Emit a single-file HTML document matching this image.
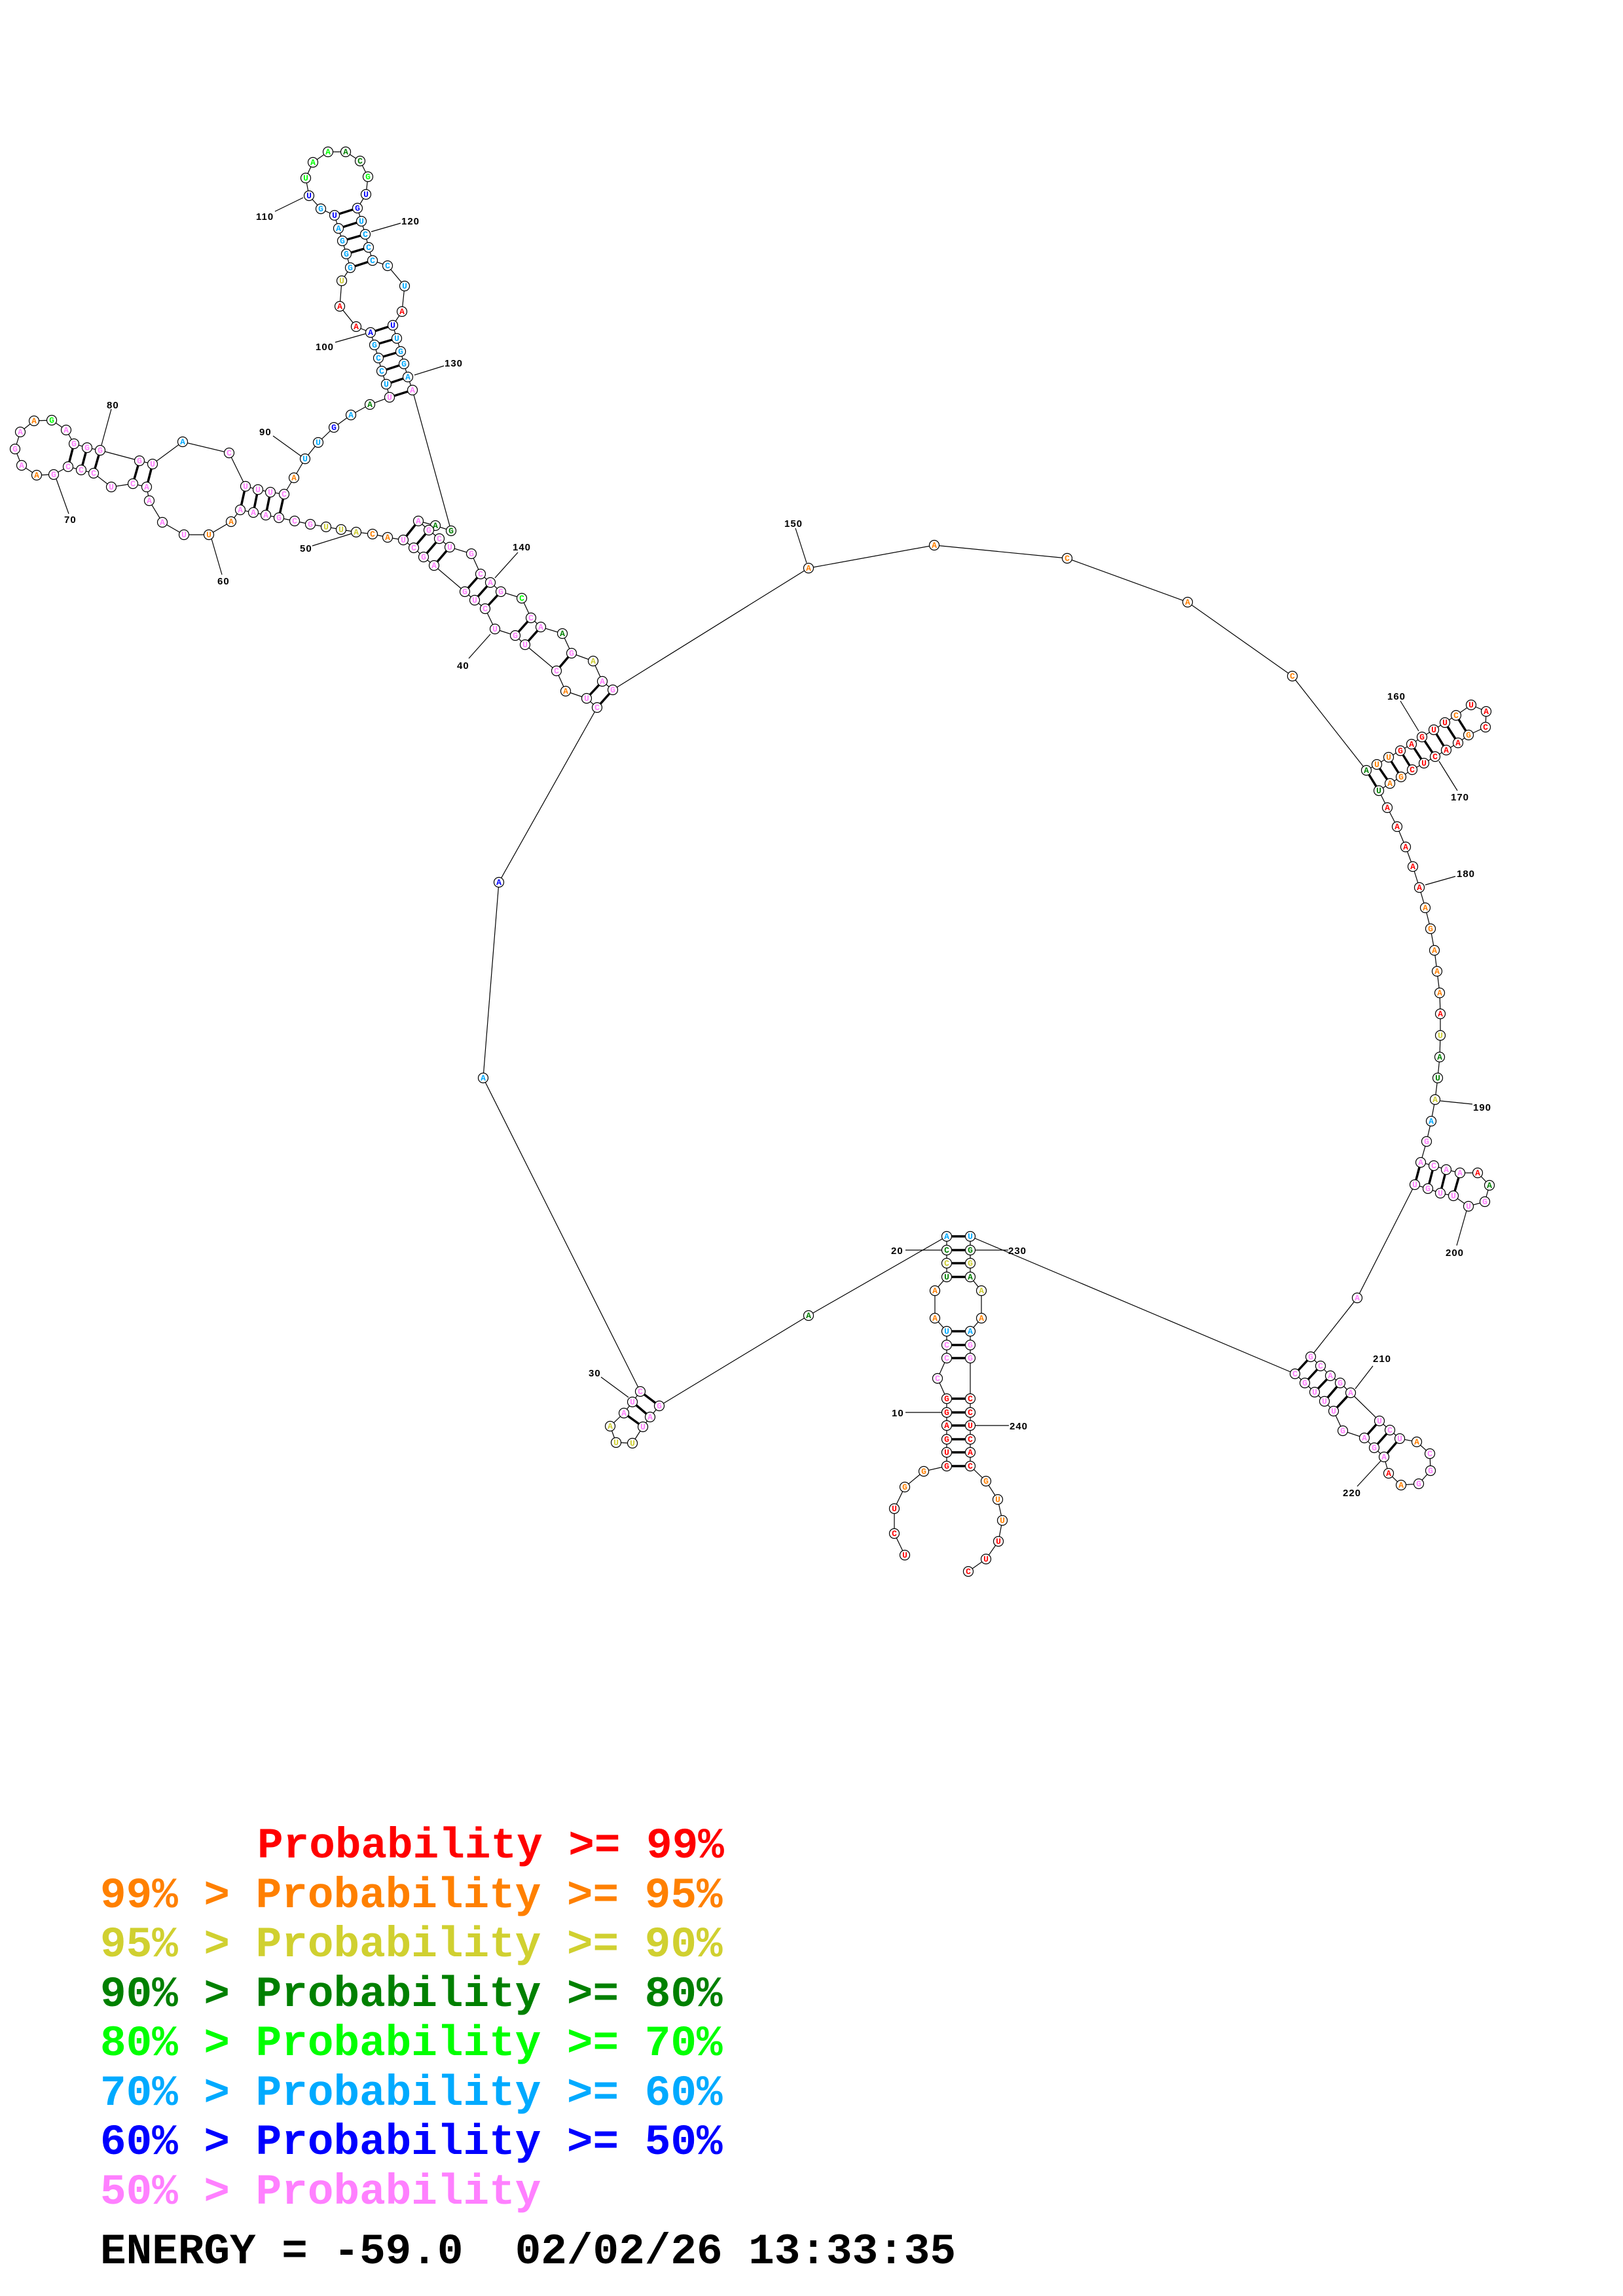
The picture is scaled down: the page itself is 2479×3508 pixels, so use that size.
<!DOCTYPE html>
<html><head><meta charset="utf-8"><style>
html,body{margin:0;padding:0;background:#fff;}
svg{display:block;}
.n circle{fill:#fff;stroke:#000;stroke-width:1.2;}
.n text{font-family:"Liberation Mono",monospace;font-weight:bold;font-size:13px;text-anchor:middle;}
.lb{font-family:"Liberation Sans",sans-serif;font-weight:bold;font-size:15px;fill:#000;letter-spacing:1px;}
.lg{font-family:"Liberation Mono",monospace;font-weight:bold;font-size:66px;white-space:pre;}
.R{fill:#ff0000}.O{fill:#ff8000}.Y{fill:#cccc30}.D{fill:#008000}.G{fill:#00ff00}.C{fill:#00aaff}.B{fill:#0000ff}.P{fill:#ff80ff}
</style></head><body>
<svg width="2479" height="3508" viewBox="0 0 2479 3508" xmlns="http://www.w3.org/2000/svg">
<rect width="2479" height="3508" fill="#fff"/>
<g stroke="#000" stroke-width="1.2" fill="none">
<polyline points="1382,2376 1366,2343 1366,2305 1382,2272 1411,2248 1446,2240 1446,2219 1446,2199 1446,2178 1446,2158 1446,2137 1432,2106 1446,2075 1446,2055 1446,2034 1428,2014 1428,1972 1446,1951 1446,1930 1446,1910 1446,1889 1235,2010 1007,2148 993,2165 982,2180 966,2205 941,2204 932,2179 953,2159 966,2142 978,2126 738,1647 762,1348 912,1081 896,1067 864,1056 850,1025 802,985 787,971 756,961 741,930 725,917 710,904 663,864 647,851 632,837 616,825 592,821 569,816 544,813 521,809 498,805 474,801 450,796 426,791 406,787 387,783 367,779 353,797 319,817 281,817 248,798 228,765 224,744 203,739 170,744 143,723 124,718 104,713 82,725 56,726 33,711 23,686 31,660 52,643 79,642 101,657 113,678 133,684 153,688 213,704 233,709 279,675 350,692 375,743 394,748 413,752 434,755 449,730 466,701 486,676 510,653 536,634 565,618 595,607 590,587 583,567 578,547 572,527 566,508 544,499 519,468 522,429 535,409 529,388 523,368 517,349 511,329 490,319 472,299 467,272 478,248 501,232 528,232 550,246 562,270 559,297 546,318 552,338 558,358 563,378 569,398 592,406 618,437 614,476 600,497 606,517 612,537 617,556 623,576 630,596 689,811 665,803 639,796 655,810 671,823 687,836 720,846 734,877 749,890 765,904 797,914 811,944 826,958 859,968 873,998 906,1010 920,1041 936,1054 1235,868 1427,833 1630,853 1814,920 1974,1033 2087,1177 2103,1168 2121,1157 2139,1147 2156,1137 2172,1126 2190,1115 2207,1104 2224,1093 2247,1077 2270,1087 2269,1111 2243,1123 2227,1135 2209,1146 2192,1156 2175,1166 2157,1176 2140,1187 2123,1197 2106,1208 2119,1234 2134,1263 2147,1294 2158,1324 2168,1356 2177,1387 2185,1419 2191,1452 2195,1484 2199,1517 2200,1549 2200,1582 2199,1615 2196,1647 2192,1680 2186,1713 2179,1744 2170,1776 2190,1781 2209,1787 2230,1792 2257,1792 2275,1811 2268,1836 2243,1843 2220,1827 2200,1823 2181,1816 2161,1810 2073,1983 2002,2073 2017,2087 2032,2102 2047,2113 2063,2128 2107,2171 2123,2185 2138,2198 2164,2203 2184,2221 2185,2247 2167,2267 2140,2269 2121,2251 2114,2226 2099,2212 2084,2197 2051,2186 2037,2156 2023,2141 2008,2127 1993,2113 1978,2099 1482,1889 1482,1910 1482,1930 1482,1951 1499,1972 1499,2014 1482,2034 1482,2055 1482,2075 1482,2137 1482,2158 1482,2178 1482,2199 1482,2219 1482,2240 1506,2263 1524,2291 1531,2323 1525,2355 1506,2382 1479,2401"/>
<line x1="1383" y1="2158" x2="1438" y2="2158"/><line x1="1383" y1="1910" x2="1438" y2="1910"/>
<line x1="1490" y1="1910" x2="1540" y2="1910"/><line x1="1490" y1="2178" x2="1541" y2="2178"/>
<line x1="918" y1="2104" x2="960" y2="2135"/><line x1="716" y1="1006" x2="749" y2="969"/>
<line x1="477" y1="834" x2="538" y2="815"/><line x1="339" y1="878" x2="323" y2="823"/>
<line x1="105" y1="785" x2="86" y2="732"/><line x1="170" y1="625" x2="155" y2="680"/>
<line x1="417" y1="666" x2="460" y2="697"/><line x1="512" y1="523" x2="558" y2="510"/>
<line x1="420" y1="323" x2="463" y2="302"/><line x1="567" y1="354" x2="612" y2="341"/>
<line x1="633" y1="573" x2="678" y2="559"/><line x1="791" y1="844" x2="756" y2="883"/>
<line x1="1215" y1="807" x2="1232" y2="860"/><line x1="2139" y1="1071" x2="2167" y2="1117"/>
<line x1="2198" y1="1163" x2="2226" y2="1208"/><line x1="2177" y1="1352" x2="2223" y2="1339"/>
<line x1="2200" y1="1682" x2="2249" y2="1687"/><line x1="2240" y1="1850" x2="2225" y2="1903"/>
<line x1="2070" y1="2122" x2="2097" y2="2087"/><line x1="2073" y1="2271" x2="2110" y2="2231"/>
</g>
<g stroke="#000" stroke-width="3.5">
<line x1="1446" y1="2240" x2="1482" y2="2240"/><line x1="1446" y1="2219" x2="1482" y2="2219"/><line x1="1446" y1="2199" x2="1482" y2="2199"/><line x1="1446" y1="2178" x2="1482" y2="2178"/><line x1="1446" y1="2158" x2="1482" y2="2158"/><line x1="1446" y1="2137" x2="1482" y2="2137"/><line x1="1446" y1="2075" x2="1482" y2="2075"/><line x1="1446" y1="2055" x2="1482" y2="2055"/><line x1="1446" y1="2034" x2="1482" y2="2034"/><line x1="1446" y1="1951" x2="1482" y2="1951"/><line x1="1446" y1="1930" x2="1482" y2="1930"/><line x1="1446" y1="1910" x2="1482" y2="1910"/><line x1="1446" y1="1889" x2="1482" y2="1889"/>
<line x1="1007" y1="2148" x2="978" y2="2126"/><line x1="993" y1="2165" x2="966" y2="2142"/><line x1="982" y1="2180" x2="953" y2="2159"/>
<line x1="912" y1="1081" x2="936" y2="1054"/><line x1="896" y1="1067" x2="920" y2="1041"/><line x1="850" y1="1025" x2="873" y2="998"/><line x1="802" y1="985" x2="826" y2="958"/><line x1="787" y1="971" x2="811" y2="944"/><line x1="741" y1="930" x2="765" y2="904"/><line x1="725" y1="917" x2="749" y2="890"/><line x1="710" y1="904" x2="734" y2="877"/><line x1="663" y1="864" x2="687" y2="836"/><line x1="647" y1="851" x2="671" y2="823"/><line x1="632" y1="837" x2="655" y2="810"/><line x1="616" y1="825" x2="639" y2="796"/>
<line x1="426" y1="791" x2="434" y2="755"/><line x1="406" y1="787" x2="413" y2="752"/><line x1="387" y1="783" x2="394" y2="748"/><line x1="367" y1="779" x2="375" y2="743"/>
<line x1="224" y1="744" x2="233" y2="709"/><line x1="203" y1="739" x2="213" y2="704"/>
<line x1="143" y1="723" x2="153" y2="688"/><line x1="124" y1="718" x2="133" y2="684"/><line x1="104" y1="713" x2="113" y2="678"/>
<line x1="595" y1="607" x2="630" y2="596"/><line x1="590" y1="587" x2="623" y2="576"/><line x1="583" y1="567" x2="617" y2="556"/><line x1="578" y1="547" x2="612" y2="537"/><line x1="572" y1="527" x2="606" y2="517"/><line x1="566" y1="508" x2="600" y2="497"/>
<line x1="535" y1="409" x2="569" y2="398"/><line x1="529" y1="388" x2="563" y2="378"/><line x1="523" y1="368" x2="558" y2="358"/><line x1="517" y1="349" x2="552" y2="338"/><line x1="511" y1="329" x2="546" y2="318"/>
<line x1="2087" y1="1177" x2="2106" y2="1208"/><line x1="2103" y1="1168" x2="2123" y2="1197"/><line x1="2121" y1="1157" x2="2140" y2="1187"/><line x1="2139" y1="1147" x2="2157" y2="1176"/><line x1="2156" y1="1137" x2="2175" y2="1166"/><line x1="2172" y1="1126" x2="2192" y2="1156"/><line x1="2190" y1="1115" x2="2209" y2="1146"/><line x1="2207" y1="1104" x2="2227" y2="1135"/><line x1="2224" y1="1093" x2="2243" y2="1123"/>
<line x1="2170" y1="1776" x2="2161" y2="1810"/><line x1="2190" y1="1781" x2="2181" y2="1816"/><line x1="2209" y1="1787" x2="2200" y2="1823"/><line x1="2230" y1="1792" x2="2220" y2="1827"/>
<line x1="2002" y1="2073" x2="1978" y2="2099"/><line x1="2017" y1="2087" x2="1993" y2="2113"/><line x1="2032" y1="2102" x2="2008" y2="2127"/><line x1="2047" y1="2113" x2="2023" y2="2141"/><line x1="2063" y1="2128" x2="2037" y2="2156"/><line x1="2107" y1="2171" x2="2084" y2="2197"/><line x1="2123" y1="2185" x2="2099" y2="2212"/><line x1="2138" y1="2198" x2="2114" y2="2226"/>
</g>
<g class="n">
<circle cx="1382" cy="2376" r="7.5"/><text x="1382" y="2380" class="R">U</text>
<circle cx="1366" cy="2343" r="7.5"/><text x="1366" y="2347" class="R">C</text>
<circle cx="1366" cy="2305" r="7.5"/><text x="1366" y="2309" class="R">U</text>
<circle cx="1382" cy="2272" r="7.5"/><text x="1382" y="2276" class="O">G</text>
<circle cx="1411" cy="2248" r="7.5"/><text x="1411" y="2252" class="O">G</text>
<circle cx="1446" cy="2240" r="7.5"/><text x="1446" y="2244" class="R">G</text>
<circle cx="1446" cy="2219" r="7.5"/><text x="1446" y="2223" class="R">U</text>
<circle cx="1446" cy="2199" r="7.5"/><text x="1446" y="2203" class="R">G</text>
<circle cx="1446" cy="2178" r="7.5"/><text x="1446" y="2182" class="R">A</text>
<circle cx="1446" cy="2158" r="7.5"/><text x="1446" y="2162" class="R">G</text>
<circle cx="1446" cy="2137" r="7.5"/><text x="1446" y="2141" class="R">G</text>
<circle cx="1432" cy="2106" r="7.5"/><text x="1432" y="2110" class="P">C</text>
<circle cx="1446" cy="2075" r="7.5"/><text x="1446" y="2079" class="P">C</text>
<circle cx="1446" cy="2055" r="7.5"/><text x="1446" y="2059" class="P">C</text>
<circle cx="1446" cy="2034" r="7.5"/><text x="1446" y="2038" class="C">U</text>
<circle cx="1428" cy="2014" r="7.5"/><text x="1428" y="2018" class="O">A</text>
<circle cx="1428" cy="1972" r="7.5"/><text x="1428" y="1976" class="O">A</text>
<circle cx="1446" cy="1951" r="7.5"/><text x="1446" y="1955" class="D">U</text>
<circle cx="1446" cy="1930" r="7.5"/><text x="1446" y="1934" class="Y">C</text>
<circle cx="1446" cy="1910" r="7.5"/><text x="1446" y="1914" class="D">C</text>
<circle cx="1446" cy="1889" r="7.5"/><text x="1446" y="1893" class="C">A</text>
<circle cx="1235" cy="2010" r="7.5"/><text x="1235" y="2014" class="D">A</text>
<circle cx="1007" cy="2148" r="7.5"/><text x="1007" y="2152" class="P">G</text>
<circle cx="993" cy="2165" r="7.5"/><text x="993" y="2169" class="P">A</text>
<circle cx="982" cy="2180" r="7.5"/><text x="982" y="2184" class="P">U</text>
<circle cx="966" cy="2205" r="7.5"/><text x="966" y="2209" class="Y">U</text>
<circle cx="941" cy="2204" r="7.5"/><text x="941" y="2208" class="Y">U</text>
<circle cx="932" cy="2179" r="7.5"/><text x="932" y="2183" class="Y">A</text>
<circle cx="953" cy="2159" r="7.5"/><text x="953" y="2163" class="P">A</text>
<circle cx="966" cy="2142" r="7.5"/><text x="966" y="2146" class="P">U</text>
<circle cx="978" cy="2126" r="7.5"/><text x="978" y="2130" class="P">C</text>
<circle cx="738" cy="1647" r="7.5"/><text x="738" y="1651" class="C">A</text>
<circle cx="762" cy="1348" r="7.5"/><text x="762" y="1352" class="B">A</text>
<circle cx="912" cy="1081" r="7.5"/><text x="912" y="1085" class="P">C</text>
<circle cx="896" cy="1067" r="7.5"/><text x="896" y="1071" class="P">U</text>
<circle cx="864" cy="1056" r="7.5"/><text x="864" y="1060" class="O">A</text>
<circle cx="850" cy="1025" r="7.5"/><text x="850" y="1029" class="P">C</text>
<circle cx="802" cy="985" r="7.5"/><text x="802" y="989" class="P">U</text>
<circle cx="787" cy="971" r="7.5"/><text x="787" y="975" class="P">G</text>
<circle cx="756" cy="961" r="7.5"/><text x="756" y="965" class="P">U</text>
<circle cx="741" cy="930" r="7.5"/><text x="741" y="934" class="P">C</text>
<circle cx="725" cy="917" r="7.5"/><text x="725" y="921" class="P">U</text>
<circle cx="710" cy="904" r="7.5"/><text x="710" y="908" class="P">G</text>
<circle cx="663" cy="864" r="7.5"/><text x="663" y="868" class="P">A</text>
<circle cx="647" cy="851" r="7.5"/><text x="647" y="855" class="P">G</text>
<circle cx="632" cy="837" r="7.5"/><text x="632" y="841" class="P">C</text>
<circle cx="616" cy="825" r="7.5"/><text x="616" y="829" class="P">U</text>
<circle cx="592" cy="821" r="7.5"/><text x="592" y="825" class="O">A</text>
<circle cx="569" cy="816" r="7.5"/><text x="569" y="820" class="O">C</text>
<circle cx="544" cy="813" r="7.5"/><text x="544" y="817" class="Y">A</text>
<circle cx="521" cy="809" r="7.5"/><text x="521" y="813" class="Y">U</text>
<circle cx="498" cy="805" r="7.5"/><text x="498" y="809" class="Y">U</text>
<circle cx="474" cy="801" r="7.5"/><text x="474" y="805" class="P">G</text>
<circle cx="450" cy="796" r="7.5"/><text x="450" y="800" class="P">C</text>
<circle cx="426" cy="791" r="7.5"/><text x="426" y="795" class="P">G</text>
<circle cx="406" cy="787" r="7.5"/><text x="406" y="791" class="P">A</text>
<circle cx="387" cy="783" r="7.5"/><text x="387" y="787" class="P">A</text>
<circle cx="367" cy="779" r="7.5"/><text x="367" y="783" class="P">A</text>
<circle cx="353" cy="797" r="7.5"/><text x="353" y="801" class="O">A</text>
<circle cx="319" cy="817" r="7.5"/><text x="319" y="821" class="O">U</text>
<circle cx="281" cy="817" r="7.5"/><text x="281" y="821" class="P">U</text>
<circle cx="248" cy="798" r="7.5"/><text x="248" y="802" class="P">A</text>
<circle cx="228" cy="765" r="7.5"/><text x="228" y="769" class="P">A</text>
<circle cx="224" cy="744" r="7.5"/><text x="224" y="748" class="P">A</text>
<circle cx="203" cy="739" r="7.5"/><text x="203" y="743" class="P">C</text>
<circle cx="170" cy="744" r="7.5"/><text x="170" y="748" class="P">U</text>
<circle cx="143" cy="723" r="7.5"/><text x="143" y="727" class="P">C</text>
<circle cx="124" cy="718" r="7.5"/><text x="124" y="722" class="P">C</text>
<circle cx="104" cy="713" r="7.5"/><text x="104" y="717" class="P">C</text>
<circle cx="82" cy="725" r="7.5"/><text x="82" y="729" class="P">G</text>
<circle cx="56" cy="726" r="7.5"/><text x="56" y="730" class="O">A</text>
<circle cx="33" cy="711" r="7.5"/><text x="33" y="715" class="P">A</text>
<circle cx="23" cy="686" r="7.5"/><text x="23" y="690" class="P">G</text>
<circle cx="31" cy="660" r="7.5"/><text x="31" y="664" class="P">A</text>
<circle cx="52" cy="643" r="7.5"/><text x="52" y="647" class="O">A</text>
<circle cx="79" cy="642" r="7.5"/><text x="79" y="646" class="G">G</text>
<circle cx="101" cy="657" r="7.5"/><text x="101" y="661" class="P">A</text>
<circle cx="113" cy="678" r="7.5"/><text x="113" y="682" class="P">G</text>
<circle cx="133" cy="684" r="7.5"/><text x="133" y="688" class="P">G</text>
<circle cx="153" cy="688" r="7.5"/><text x="153" y="692" class="P">G</text>
<circle cx="213" cy="704" r="7.5"/><text x="213" y="708" class="P">G</text>
<circle cx="233" cy="709" r="7.5"/><text x="233" y="713" class="P">U</text>
<circle cx="279" cy="675" r="7.5"/><text x="279" y="679" class="C">A</text>
<circle cx="350" cy="692" r="7.5"/><text x="350" y="696" class="P">C</text>
<circle cx="375" cy="743" r="7.5"/><text x="375" y="747" class="P">U</text>
<circle cx="394" cy="748" r="7.5"/><text x="394" y="752" class="P">U</text>
<circle cx="413" cy="752" r="7.5"/><text x="413" y="756" class="P">U</text>
<circle cx="434" cy="755" r="7.5"/><text x="434" y="759" class="P">C</text>
<circle cx="449" cy="730" r="7.5"/><text x="449" y="734" class="O">A</text>
<circle cx="466" cy="701" r="7.5"/><text x="466" y="705" class="C">U</text>
<circle cx="486" cy="676" r="7.5"/><text x="486" y="680" class="C">U</text>
<circle cx="510" cy="653" r="7.5"/><text x="510" y="657" class="B">G</text>
<circle cx="536" cy="634" r="7.5"/><text x="536" y="638" class="C">A</text>
<circle cx="565" cy="618" r="7.5"/><text x="565" y="622" class="D">A</text>
<circle cx="595" cy="607" r="7.5"/><text x="595" y="611" class="P">U</text>
<circle cx="590" cy="587" r="7.5"/><text x="590" y="591" class="C">U</text>
<circle cx="583" cy="567" r="7.5"/><text x="583" y="571" class="C">C</text>
<circle cx="578" cy="547" r="7.5"/><text x="578" y="551" class="C">C</text>
<circle cx="572" cy="527" r="7.5"/><text x="572" y="531" class="C">G</text>
<circle cx="566" cy="508" r="7.5"/><text x="566" y="512" class="B">A</text>
<circle cx="544" cy="499" r="7.5"/><text x="544" y="503" class="R">A</text>
<circle cx="519" cy="468" r="7.5"/><text x="519" y="472" class="R">A</text>
<circle cx="522" cy="429" r="7.5"/><text x="522" y="433" class="Y">U</text>
<circle cx="535" cy="409" r="7.5"/><text x="535" y="413" class="C">G</text>
<circle cx="529" cy="388" r="7.5"/><text x="529" y="392" class="C">G</text>
<circle cx="523" cy="368" r="7.5"/><text x="523" y="372" class="C">G</text>
<circle cx="517" cy="349" r="7.5"/><text x="517" y="353" class="C">A</text>
<circle cx="511" cy="329" r="7.5"/><text x="511" y="333" class="B">U</text>
<circle cx="490" cy="319" r="7.5"/><text x="490" y="323" class="C">G</text>
<circle cx="472" cy="299" r="7.5"/><text x="472" y="303" class="B">U</text>
<circle cx="467" cy="272" r="7.5"/><text x="467" y="276" class="G">U</text>
<circle cx="478" cy="248" r="7.5"/><text x="478" y="252" class="G">A</text>
<circle cx="501" cy="232" r="7.5"/><text x="501" y="236" class="G">A</text>
<circle cx="528" cy="232" r="7.5"/><text x="528" y="236" class="D">A</text>
<circle cx="550" cy="246" r="7.5"/><text x="550" y="250" class="D">C</text>
<circle cx="562" cy="270" r="7.5"/><text x="562" y="274" class="G">G</text>
<circle cx="559" cy="297" r="7.5"/><text x="559" y="301" class="B">U</text>
<circle cx="546" cy="318" r="7.5"/><text x="546" y="322" class="B">G</text>
<circle cx="552" cy="338" r="7.5"/><text x="552" y="342" class="C">U</text>
<circle cx="558" cy="358" r="7.5"/><text x="558" y="362" class="C">C</text>
<circle cx="563" cy="378" r="7.5"/><text x="563" y="382" class="C">C</text>
<circle cx="569" cy="398" r="7.5"/><text x="569" y="402" class="C">C</text>
<circle cx="592" cy="406" r="7.5"/><text x="592" y="410" class="C">C</text>
<circle cx="618" cy="437" r="7.5"/><text x="618" y="441" class="C">U</text>
<circle cx="614" cy="476" r="7.5"/><text x="614" y="480" class="R">A</text>
<circle cx="600" cy="497" r="7.5"/><text x="600" y="501" class="B">U</text>
<circle cx="606" cy="517" r="7.5"/><text x="606" y="521" class="C">U</text>
<circle cx="612" cy="537" r="7.5"/><text x="612" y="541" class="C">G</text>
<circle cx="617" cy="556" r="7.5"/><text x="617" y="560" class="C">G</text>
<circle cx="623" cy="576" r="7.5"/><text x="623" y="580" class="C">A</text>
<circle cx="630" cy="596" r="7.5"/><text x="630" y="600" class="P">A</text>
<circle cx="689" cy="811" r="7.5"/><text x="689" y="815" class="D">G</text>
<circle cx="665" cy="803" r="7.5"/><text x="665" y="807" class="D">A</text>
<circle cx="639" cy="796" r="7.5"/><text x="639" y="800" class="P">A</text>
<circle cx="655" cy="810" r="7.5"/><text x="655" y="814" class="P">G</text>
<circle cx="671" cy="823" r="7.5"/><text x="671" y="827" class="P">C</text>
<circle cx="687" cy="836" r="7.5"/><text x="687" y="840" class="P">U</text>
<circle cx="720" cy="846" r="7.5"/><text x="720" y="850" class="P">G</text>
<circle cx="734" cy="877" r="7.5"/><text x="734" y="881" class="P">C</text>
<circle cx="749" cy="890" r="7.5"/><text x="749" y="894" class="P">A</text>
<circle cx="765" cy="904" r="7.5"/><text x="765" y="908" class="P">G</text>
<circle cx="797" cy="914" r="7.5"/><text x="797" y="918" class="G">C</text>
<circle cx="811" cy="944" r="7.5"/><text x="811" y="948" class="P">C</text>
<circle cx="826" cy="958" r="7.5"/><text x="826" y="962" class="P">A</text>
<circle cx="859" cy="968" r="7.5"/><text x="859" y="972" class="D">A</text>
<circle cx="873" cy="998" r="7.5"/><text x="873" y="1002" class="P">G</text>
<circle cx="906" cy="1010" r="7.5"/><text x="906" y="1014" class="Y">A</text>
<circle cx="920" cy="1041" r="7.5"/><text x="920" y="1045" class="P">A</text>
<circle cx="936" cy="1054" r="7.5"/><text x="936" y="1058" class="P">G</text>
<circle cx="1235" cy="868" r="7.5"/><text x="1235" y="872" class="O">A</text>
<circle cx="1427" cy="833" r="7.5"/><text x="1427" y="837" class="O">A</text>
<circle cx="1630" cy="853" r="7.5"/><text x="1630" y="857" class="O">C</text>
<circle cx="1814" cy="920" r="7.5"/><text x="1814" y="924" class="O">A</text>
<circle cx="1974" cy="1033" r="7.5"/><text x="1974" y="1037" class="O">C</text>
<circle cx="2087" cy="1177" r="7.5"/><text x="2087" y="1181" class="D">A</text>
<circle cx="2103" cy="1168" r="7.5"/><text x="2103" y="1172" class="O">U</text>
<circle cx="2121" cy="1157" r="7.5"/><text x="2121" y="1161" class="O">U</text>
<circle cx="2139" cy="1147" r="7.5"/><text x="2139" y="1151" class="R">G</text>
<circle cx="2156" cy="1137" r="7.5"/><text x="2156" y="1141" class="R">A</text>
<circle cx="2172" cy="1126" r="7.5"/><text x="2172" y="1130" class="R">G</text>
<circle cx="2190" cy="1115" r="7.5"/><text x="2190" y="1119" class="R">U</text>
<circle cx="2207" cy="1104" r="7.5"/><text x="2207" y="1108" class="R">U</text>
<circle cx="2224" cy="1093" r="7.5"/><text x="2224" y="1097" class="O">C</text>
<circle cx="2247" cy="1077" r="7.5"/><text x="2247" y="1081" class="R">U</text>
<circle cx="2270" cy="1087" r="7.5"/><text x="2270" y="1091" class="R">A</text>
<circle cx="2269" cy="1111" r="7.5"/><text x="2269" y="1115" class="R">C</text>
<circle cx="2243" cy="1123" r="7.5"/><text x="2243" y="1127" class="O">G</text>
<circle cx="2227" cy="1135" r="7.5"/><text x="2227" y="1139" class="R">A</text>
<circle cx="2209" cy="1146" r="7.5"/><text x="2209" y="1150" class="R">A</text>
<circle cx="2192" cy="1156" r="7.5"/><text x="2192" y="1160" class="R">C</text>
<circle cx="2175" cy="1166" r="7.5"/><text x="2175" y="1170" class="R">U</text>
<circle cx="2157" cy="1176" r="7.5"/><text x="2157" y="1180" class="R">C</text>
<circle cx="2140" cy="1187" r="7.5"/><text x="2140" y="1191" class="O">G</text>
<circle cx="2123" cy="1197" r="7.5"/><text x="2123" y="1201" class="O">A</text>
<circle cx="2106" cy="1208" r="7.5"/><text x="2106" y="1212" class="D">U</text>
<circle cx="2119" cy="1234" r="7.5"/><text x="2119" y="1238" class="R">A</text>
<circle cx="2134" cy="1263" r="7.5"/><text x="2134" y="1267" class="R">A</text>
<circle cx="2147" cy="1294" r="7.5"/><text x="2147" y="1298" class="R">A</text>
<circle cx="2158" cy="1324" r="7.5"/><text x="2158" y="1328" class="R">A</text>
<circle cx="2168" cy="1356" r="7.5"/><text x="2168" y="1360" class="R">A</text>
<circle cx="2177" cy="1387" r="7.5"/><text x="2177" y="1391" class="O">A</text>
<circle cx="2185" cy="1419" r="7.5"/><text x="2185" y="1423" class="O">G</text>
<circle cx="2191" cy="1452" r="7.5"/><text x="2191" y="1456" class="O">A</text>
<circle cx="2195" cy="1484" r="7.5"/><text x="2195" y="1488" class="O">A</text>
<circle cx="2199" cy="1517" r="7.5"/><text x="2199" y="1521" class="O">A</text>
<circle cx="2200" cy="1549" r="7.5"/><text x="2200" y="1553" class="R">A</text>
<circle cx="2200" cy="1582" r="7.5"/><text x="2200" y="1586" class="Y">U</text>
<circle cx="2199" cy="1615" r="7.5"/><text x="2199" y="1619" class="D">A</text>
<circle cx="2196" cy="1647" r="7.5"/><text x="2196" y="1651" class="D">U</text>
<circle cx="2192" cy="1680" r="7.5"/><text x="2192" y="1684" class="Y">A</text>
<circle cx="2186" cy="1713" r="7.5"/><text x="2186" y="1717" class="C">A</text>
<circle cx="2179" cy="1744" r="7.5"/><text x="2179" y="1748" class="P">G</text>
<circle cx="2170" cy="1776" r="7.5"/><text x="2170" y="1780" class="P">A</text>
<circle cx="2190" cy="1781" r="7.5"/><text x="2190" y="1785" class="P">C</text>
<circle cx="2209" cy="1787" r="7.5"/><text x="2209" y="1791" class="P">A</text>
<circle cx="2230" cy="1792" r="7.5"/><text x="2230" y="1796" class="P">A</text>
<circle cx="2257" cy="1792" r="7.5"/><text x="2257" y="1796" class="R">A</text>
<circle cx="2275" cy="1811" r="7.5"/><text x="2275" y="1815" class="D">A</text>
<circle cx="2268" cy="1836" r="7.5"/><text x="2268" y="1840" class="P">G</text>
<circle cx="2243" cy="1843" r="7.5"/><text x="2243" y="1847" class="P">U</text>
<circle cx="2220" cy="1827" r="7.5"/><text x="2220" y="1831" class="P">U</text>
<circle cx="2200" cy="1823" r="7.5"/><text x="2200" y="1827" class="P">U</text>
<circle cx="2181" cy="1816" r="7.5"/><text x="2181" y="1820" class="P">G</text>
<circle cx="2161" cy="1810" r="7.5"/><text x="2161" y="1814" class="P">U</text>
<circle cx="2073" cy="1983" r="7.5"/><text x="2073" y="1987" class="P">A</text>
<circle cx="2002" cy="2073" r="7.5"/><text x="2002" y="2077" class="P">G</text>
<circle cx="2017" cy="2087" r="7.5"/><text x="2017" y="2091" class="P">C</text>
<circle cx="2032" cy="2102" r="7.5"/><text x="2032" y="2106" class="P">A</text>
<circle cx="2047" cy="2113" r="7.5"/><text x="2047" y="2117" class="P">G</text>
<circle cx="2063" cy="2128" r="7.5"/><text x="2063" y="2132" class="P">A</text>
<circle cx="2107" cy="2171" r="7.5"/><text x="2107" y="2175" class="P">U</text>
<circle cx="2123" cy="2185" r="7.5"/><text x="2123" y="2189" class="P">C</text>
<circle cx="2138" cy="2198" r="7.5"/><text x="2138" y="2202" class="P">U</text>
<circle cx="2164" cy="2203" r="7.5"/><text x="2164" y="2207" class="O">A</text>
<circle cx="2184" cy="2221" r="7.5"/><text x="2184" y="2225" class="P">C</text>
<circle cx="2185" cy="2247" r="7.5"/><text x="2185" y="2251" class="P">G</text>
<circle cx="2167" cy="2267" r="7.5"/><text x="2167" y="2271" class="P">G</text>
<circle cx="2140" cy="2269" r="7.5"/><text x="2140" y="2273" class="O">A</text>
<circle cx="2121" cy="2251" r="7.5"/><text x="2121" y="2255" class="R">A</text>
<circle cx="2114" cy="2226" r="7.5"/><text x="2114" y="2230" class="P">A</text>
<circle cx="2099" cy="2212" r="7.5"/><text x="2099" y="2216" class="P">G</text>
<circle cx="2084" cy="2197" r="7.5"/><text x="2084" y="2201" class="P">A</text>
<circle cx="2051" cy="2186" r="7.5"/><text x="2051" y="2190" class="P">G</text>
<circle cx="2037" cy="2156" r="7.5"/><text x="2037" y="2160" class="P">U</text>
<circle cx="2023" cy="2141" r="7.5"/><text x="2023" y="2145" class="P">U</text>
<circle cx="2008" cy="2127" r="7.5"/><text x="2008" y="2131" class="P">U</text>
<circle cx="1993" cy="2113" r="7.5"/><text x="1993" y="2117" class="P">G</text>
<circle cx="1978" cy="2099" r="7.5"/><text x="1978" y="2103" class="P">C</text>
<circle cx="1482" cy="1889" r="7.5"/><text x="1482" y="1893" class="C">U</text>
<circle cx="1482" cy="1910" r="7.5"/><text x="1482" y="1914" class="D">G</text>
<circle cx="1482" cy="1930" r="7.5"/><text x="1482" y="1934" class="Y">G</text>
<circle cx="1482" cy="1951" r="7.5"/><text x="1482" y="1955" class="D">A</text>
<circle cx="1499" cy="1972" r="7.5"/><text x="1499" y="1976" class="Y">A</text>
<circle cx="1499" cy="2014" r="7.5"/><text x="1499" y="2018" class="O">A</text>
<circle cx="1482" cy="2034" r="7.5"/><text x="1482" y="2038" class="C">A</text>
<circle cx="1482" cy="2055" r="7.5"/><text x="1482" y="2059" class="P">G</text>
<circle cx="1482" cy="2075" r="7.5"/><text x="1482" y="2079" class="P">G</text>
<circle cx="1482" cy="2137" r="7.5"/><text x="1482" y="2141" class="R">C</text>
<circle cx="1482" cy="2158" r="7.5"/><text x="1482" y="2162" class="R">C</text>
<circle cx="1482" cy="2178" r="7.5"/><text x="1482" y="2182" class="R">U</text>
<circle cx="1482" cy="2199" r="7.5"/><text x="1482" y="2203" class="R">C</text>
<circle cx="1482" cy="2219" r="7.5"/><text x="1482" y="2223" class="R">A</text>
<circle cx="1482" cy="2240" r="7.5"/><text x="1482" y="2244" class="R">C</text>
<circle cx="1506" cy="2263" r="7.5"/><text x="1506" y="2267" class="O">G</text>
<circle cx="1524" cy="2291" r="7.5"/><text x="1524" y="2295" class="O">U</text>
<circle cx="1531" cy="2323" r="7.5"/><text x="1531" y="2327" class="O">U</text>
<circle cx="1525" cy="2355" r="7.5"/><text x="1525" y="2359" class="R">U</text>
<circle cx="1506" cy="2382" r="7.5"/><text x="1506" y="2386" class="R">U</text>
<circle cx="1479" cy="2401" r="7.5"/><text x="1479" y="2405" class="R">C</text>
</g>
<g class="lb">
<text x="1362" y="2164">10</text><text x="1361" y="1916">20</text>
<text x="1540" y="1916">230</text><text x="1542" y="2184">240</text>
<text x="899" y="2103">30</text><text x="698" y="1022">40</text>
<text x="458" y="843">50</text><text x="332" y="893">60</text>
<text x="98" y="799">70</text><text x="163" y="624">80</text>
<text x="396" y="665">90</text><text x="482" y="535">100</text>
<text x="391" y="336">110</text><text x="613" y="343">120</text>
<text x="679" y="560">130</text><text x="783" y="841">140</text>
<text x="1198" y="805">150</text><text x="2119" y="1069">160</text>
<text x="2216" y="1223">170</text><text x="2225" y="1340">180</text>
<text x="2250" y="1697">190</text><text x="2208" y="1919">200</text>
<text x="2097" y="2081">210</text><text x="2051" y="2286">220</text>
</g>
<g class="lg">
<text x="393" y="2838" fill="#ff0000" xml:space="preserve">Probability &gt;= 99%</text>
<text x="153" y="2914" fill="#ff8000" xml:space="preserve">99% &gt; Probability &gt;= 95%</text>
<text x="153" y="2989" fill="#d0d030" xml:space="preserve">95% &gt; Probability &gt;= 90%</text>
<text x="153" y="3065" fill="#008000" xml:space="preserve">90% &gt; Probability &gt;= 80%</text>
<text x="153" y="3140" fill="#00ff00" xml:space="preserve">80% &gt; Probability &gt;= 70%</text>
<text x="153" y="3216" fill="#00aaff" xml:space="preserve">70% &gt; Probability &gt;= 60%</text>
<text x="153" y="3291" fill="#0000ff" xml:space="preserve">60% &gt; Probability &gt;= 50%</text>
<text x="153" y="3367" fill="#ff80ff" xml:space="preserve">50% &gt; Probability</text>
<text x="153" y="3458" fill="#000000" xml:space="preserve">ENERGY = -59.0  02/02/26 13:33:35</text>
</g>
</svg>
</body></html>
